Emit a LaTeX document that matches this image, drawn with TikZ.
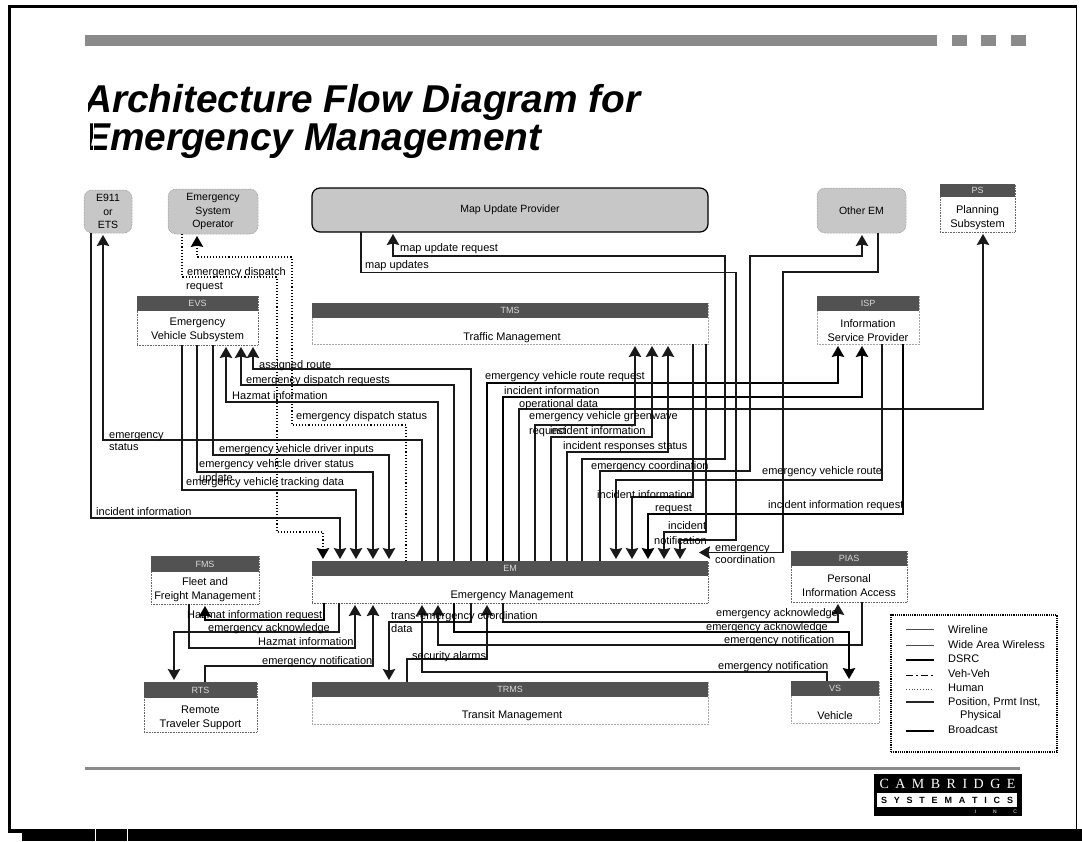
\documentclass[tikz,border=0pt]{standalone}
\usepackage{fontspec}
\setmainfont{Liberation Sans}
\newfontfamily\serifcap{Liberation Serif}
\usetikzlibrary{arrows.meta}
\definecolor{hdrgray}{gray}{0.32}
\definecolor{softgray}{gray}{0.78}
\definecolor{bandgray}{gray}{0.54}
\tikzset{
  bodybox/.style={draw=black!60,densely dotted,line width=0.6pt,inner sep=0,outer sep=0,fill=white},
  faintbox/.style={draw=black!35,densely dotted,line width=0.5pt,inner sep=0,outer sep=0,fill=white},
  headbar/.style={draw=none,fill=hdrgray,inner sep=0,outer sep=0,text=white!85!black,font=\fontsize{9}{10}\selectfont},
  softbox/.style={draw=black!55,densely dotted,line width=0.5pt,fill=softgray,rounded corners=8pt,inner sep=0,outer sep=0,align=center,font=\fontsize{10.5}{13.5}\selectfont},
  mapbox/.style={draw=black,line width=1.2pt,fill=softgray,rounded corners=8pt,inner sep=0,outer sep=0,font=\fontsize{10.5}{13}\selectfont},
  boxtxt/.style={align=center,inner sep=0,font=\fontsize{11}{14}\selectfont},
  lbl/.style={anchor=west,inner sep=0,text height=8pt,text depth=2.5pt,font=\fontsize{11}{13}\selectfont},
  conn/.style={draw=black!90,line width=1.25pt,line join=miter},
  heavy/.style={draw=black,line width=1.6pt,line join=miter},
  human/.style={draw=black,line width=1.1pt,dotted,line join=miter},
  arrowed/.style={-{Stealth[length=11pt,width=12.5pt,inset=1.5pt]},shorten >=2pt}
}
\begin{document}
\begin{tikzpicture}[x=1pt,y=-1pt]
\path[use as bounding box,fill=white] (0,0) rectangle (1082,841);
% page frame
\fill[black] (7.5,5) rectangle (1077,8);
\fill[black] (7.5,5) rectangle (10.5,833);
\fill[black] (7.5,829) rectangle (22,833);
\fill[black] (22,829) rectangle (1082,841);
\fill[black] (1075.8,8) rectangle (1076.8,829);
\fill[white] (95,829) rectangle (96,841);
\fill[white] (127,829) rectangle (128,841);
% top band
\fill[bandgray] (85,34.5) rectangle (937,46);
\fill[bandgray] (952,34.5) rectangle (967,46);
\fill[bandgray] (981,34.5) rectangle (996,46);
\fill[bandgray] (1011,34.5) rectangle (1026,46);
% bottom rule
\fill[bandgray] (85,767) rectangle (1020,770);
% title
\node[anchor=base west,inner sep=0,font=\fontsize{38.8}{38.8}\selectfont\bfseries\itshape] (title1) at (84,112) {Architecture Flow Diagram for};
\node[anchor=base west,inner sep=0,font=\fontsize{38.8}{38.8}\selectfont\bfseries\itshape] (title2) at (84,150) {Emergency Management};
\fill[white] (80,85) rectangle (87.5,116);
\fill[white] (80,122) rectangle (90,154);
\fill[white] (92.5,122) rectangle (93.5,154);

% terminators
\node[softbox,minimum width=48,minimum height=43] (e911) at (108,211.5) {E911\\or\\ETS};
\node[softbox,minimum width=90,minimum height=45] (eso) at (213,211.5) {Emergency\\System\\Operator};
\node[mapbox,minimum width=396,minimum height=44] (map) at (510,210) {Map Update Provider};
\node[softbox,minimum width=89,minimum height=45] (oem) at (861.5,210.5) {Other EM};

% subsystems
\node[bodybox,minimum width=75,minimum height=48] (ps) at (977.5,208) {};
\node[headbar,minimum width=75,minimum height=13] (psh) at (977.5,190.5) {PS};
\node[boxtxt] (pst) at (977.5,217.5) {Planning\\Subsystem};

\node[bodybox,minimum width=121,minimum height=49] (evs) at (197.5,320.5) {};
\node[headbar,minimum width=121,minimum height=15] (evsh) at (197.5,303.5) {EVS};
\node[boxtxt] (evst) at (197.5,330) {Emergency\\Vehicle Subsystem};

\node[faintbox,minimum width=396,minimum height=41] (tms) at (510,323.5) {};
\node[headbar,minimum width=396,minimum height=15] (tmsh) at (510,310.5) {TMS};
\node[boxtxt] (tmst) at (512,338) {Traffic Management};

\node[faintbox,minimum width=102,minimum height=48] (isp) at (868,320) {};
\node[headbar,minimum width=102,minimum height=15] (isph) at (868,303.5) {ISP};
\node[boxtxt] (ispt) at (868,331) {Information\\Service Provider};

\node[bodybox,minimum width=108,minimum height=48] (fms) at (205,580) {};
\node[headbar,minimum width=108,minimum height=16] (fmsh) at (205,564) {FMS};
\node[boxtxt] (fmst) at (205,589.5) {Fleet and\\Freight Management};

\node[bodybox,minimum width=396,minimum height=42] (em) at (510,582) {};
\node[headbar,minimum width=396,minimum height=15] (emh) at (510,568.5) {EM};
\node[boxtxt] (emt) at (512,596) {Emergency Management};

\node[bodybox,minimum width=116,minimum height=51] (pias) at (849,576.5) {};
\node[headbar,minimum width=116,minimum height=15] (piash) at (849,558.5) {PIAS};
\node[boxtxt] (piast) at (849,586) {Personal\\Information Access};

\node[bodybox,minimum width=113,minimum height=50] (rts) at (200.5,707) {};
\node[headbar,minimum width=113,minimum height=16] (rtsh) at (200.5,690) {RTS};
\node[boxtxt] (rtst) at (200.5,717.5) {Remote\\Traveler Support};

\node[faintbox,minimum width=396,minimum height=42] (trms) at (510,703) {};
\node[headbar,minimum width=396,minimum height=15] (trmsh) at (510,689.5) {TRMS};
\node[boxtxt] (trmst) at (512,716) {Transit Management};

\node[faintbox,minimum width=88,minimum height=42] (vs) at (835,702) {};
\node[headbar,minimum width=88,minimum height=15] (vsh) at (835,688.5) {VS};
\node[boxtxt] (vst) at (835,716) {Vehicle};

% --- connectors above EM
\draw[conn,arrowed] (e911.south -| 91,0) -- (91,518) -- (340,518) -- (emh.north -| 340,0);
\draw[conn,arrowed] (emh.north -| 422,0) -- (422,440) -- (103,440) -- (e911.south -| 103,0);
\draw[human,arrowed] (eso.south -| 182,0) -- (182,277) -- (277,277) -- (277,532) -- (323,532) -- (emh.north -| 323,0);
\draw[human,arrowed] (emh.north -| 406,0) -- (406,425) -- (292,425) -- (292,257) -- (197,257) -- (eso.south -| 197,0);
\draw[conn,arrowed] (emh.north -| 471,0) -- (471,369) -- (253,369) -- (evs.south -| 253,0);
\draw[conn,arrowed] (emh.north -| 454,0) -- (454,385) -- (241,385) -- (evs.south -| 241,0);
\draw[conn,arrowed] (emh.north -| 438,0) -- (438,402) -- (226,402) -- (evs.south -| 226,0);
\draw[conn,arrowed] (evs.south -| 213,0) -- (213,455) -- (389,455) -- (emh.north -| 389,0);
\draw[conn,arrowed] (evs.south -| 197,0) -- (197,472) -- (373,472) -- (emh.north -| 373,0);
\draw[conn,arrowed] (evs.south -| 182,0) -- (182,490) -- (356,490) -- (emh.north -| 356,0);
\draw[heavy,arrowed] (emh.north -| 487,0) -- (487,383) -- (838,383) -- (isp.south -| 838,0);
\draw[heavy,arrowed] (emh.north -| 503,0) -- (503,397) -- (862,397) -- (isp.south -| 862,0);
\draw[conn,arrowed] (emh.north -| 519,0) -- (519,409) -- (983,409) -- (ps.south -| 983,0);
\draw[conn,arrowed] (emh.north -| 535,0) -- (535,425) -- (635,425) -- (tms.south -| 635,0);
\draw[conn,arrowed] (emh.north -| 551,0) -- (551,437) -- (652,437) -- (tms.south -| 652,0);
\draw[conn,arrowed] (emh.north -| 567,0) -- (567,452) -- (668,452) -- (tms.south -| 668,0);
\draw[conn,arrowed] (emh.north -| 582,0) -- (582,459) -- (725,459) -- (725,256) -- (393,256) -- (map.south -| 393,0);
\draw[conn,arrowed] (map.south -| 361,0) -- (361,272.5) -- (736,272.5) -- (736,540) -- (680,540) -- (emh.north -| 680,0);
\draw[conn,arrowed] (emh.north -| 600,0) -- (600,471) -- (750,471) -- (750,256) -- (862,256) -- (oem.south -| 862,0);
\draw[conn,arrowed] (oem.south -| 878,0) -- (878,272) -- (783,272) -- (783,552.5) -- (697,552.5);
\draw[conn,arrowed] (isp.south -| 882,0) -- (882,480) -- (616,480) -- (emh.north -| 616,0);
\draw[conn,arrowed] (tms.south -| 693,0) -- (693,497) -- (632,497) -- (emh.north -| 632,0);
\draw[heavy,arrowed] (isp.south -| 903,0) -- (903,514) -- (648,514) -- (emh.north -| 648,0);
\draw[conn,arrowed] (tms.south -| 706,0) -- (706,532) -- (664,532) -- (emh.north -| 664,0);

% --- connectors below EM
\draw[heavy,arrowed] (em.south -| 324,0) -- (324,620) -- (205,620) -- (fms.south -| 205,0);
\draw[conn,arrowed] (em.south -| 339,0) -- (339,632) -- (174,632) -- (rtsh.north -| 174,0);
\draw[conn,arrowed] (fms.south -| 189,0) -- (189,648) -- (355,648) -- (em.south -| 355,0);
\draw[conn,arrowed] (rtsh.north -| 205,0) -- (205,666) -- (373,666) -- (em.south -| 373,0);
\draw[conn,arrowed] (em.south -| 471,0) -- (471,622) -- (389,622) -- (trmsh.north -| 389,0);
\draw[conn,arrowed] (trmsh.north -| 407,0) -- (407,659) -- (487,659) -- (em.south -| 487,0);
\draw[conn,arrowed] (vsh.north -| 827,0) -- (827,672) -- (422,672) -- (em.south -| 422,0);
\draw[conn,arrowed] (pias.south -| 862,0) -- (862,645) -- (438,645) -- (em.south -| 438,0);
\draw[heavy,arrowed] (em.south -| 454,0) -- (454,632) -- (849,632) -- (vsh.north -| 849,0);
\draw[conn,arrowed] (em.south -| 503,0) -- (503,622) -- (838,622) -- (pias.south -| 838,0);

% --- labels
\node[lbl] (l01) at (187,273) {emergency dispatch};
\node[lbl] (l02) at (186,287) {request};
\node[lbl] (l03) at (400,249) {map update request};
\node[lbl] (l04) at (365,266) {map updates};
\node[lbl] (l05) at (259,366) {assigned route};
\node[lbl] (l06) at (246,381) {emergency dispatch requests};
\node[lbl] (l07) at (232,397) {Hazmat information};
\node[lbl] (l08) at (296,417) {emergency dispatch status};
\node[lbl] (l09) at (485,377) {emergency vehicle route request};
\node[lbl] (l10) at (504,392) {incident information};
\node[lbl] (l11) at (519,405) {operational data};
\node[lbl] (l12) at (529,417) {emergency vehicle greenwave};
\node[lbl] (l13) at (529,432) {request};
\node[lbl] (l14) at (550,432) {incident information};
\node[lbl] (l15) at (563,447) {incident responses status};
\node[lbl] (l16) at (591,467) {emergency coordination};
\node[lbl] (l17) at (597,496) {incident information};
\node[lbl] (l18) at (655,509) {request};
\node[lbl] (l19) at (668,527) {incident};
\node[lbl] (l20) at (654,542) {notification};
\node[lbl] (l21) at (715,549) {emergency};
\node[lbl] (l22) at (715,561) {coordination};
\node[lbl] (l23) at (762,472) {emergency vehicle route};
\node[lbl] (l24) at (768,506) {incident information request};
\node[lbl] (l25) at (109,436) {emergency};
\node[lbl] (l26) at (109,448) {status};
\node[lbl] (l27) at (219,450) {emergency vehicle driver inputs};
\node[lbl] (l28) at (199,465) {emergency vehicle driver status};
\node[lbl] (l29) at (199,479) {update};
\node[lbl] (l30) at (186,483) {emergency vehicle tracking data};
\node[lbl] (l31) at (96,513) {incident information};
\node[lbl] (l32) at (187,616) {Hazmat information request};
\node[lbl] (l33) at (208,629) {emergency acknowledge};
\node[lbl] (l34) at (258,643) {Hazmat information};
\node[lbl] (l35) at (262,662) {emergency notification};
\node[lbl] (l36) at (412,657) {security alarms};
\node[lbl] (l37) at (391,617) {trans-};
\node[lbl] (l38) at (391,630) {data};
\node[lbl] (l39) at (420,617) {emergency coordination};
\node[lbl] (l40) at (716,614) {emergency acknowledge};
\node[lbl] (l41) at (706,628) {emergency acknowledge};
\node[lbl] (l42) at (724,641) {emergency notification};
\node[lbl] (l43) at (718,667) {emergency notification};

% legend
\node[draw=black,densely dotted,line width=1.2pt,fill=white,minimum width=166,minimum height=137,inner sep=0] (legend) at (974,683.5) {};
\draw[draw=black!70,line width=0.7pt] (906,629) -- (934,629);
\draw[draw=black!70,line width=1pt] (906,645) -- (934,645);
\draw[draw=black,line width=1.5pt] (906,660) -- (934,660);
\draw[draw=black,line width=1pt,dash pattern=on 7pt off 3pt on 2pt off 3pt] (906,675) -- (934,675);
\draw[draw=black!70,line width=0.8pt,dotted] (906,689) -- (934,689);
\draw[draw=black!85,line width=1.2pt] (906,702) -- (934,702);
\draw[draw=black,line width=1.6pt] (906,731) -- (934,731);
\node[lbl] (k1) at (948,631) {Wireline};
\node[lbl] (k2) at (948,646) {Wide Area Wireless};
\node[lbl] (k3) at (948,660) {DSRC};
\node[lbl] (k4) at (948,675) {Veh-Veh};
\node[lbl] (k5) at (948,689) {Human};
\node[lbl] (k6) at (948,703) {Position, Prmt Inst,};
\node[lbl] (k7) at (960,716) {Physical};
\node[lbl] (k8) at (948,731) {Broadcast};

% logo
\fill[black] (874,774) rectangle (1022,816);
\fill[white] (877,793) rectangle (1017,807);
\node[anchor=center,inner sep=0,text=white,font=\serifcap\fontsize{14}{14}\selectfont] (logo1) at (947.5,784) {\makebox[136pt][s]{C\hfil A\hfil M\hfil B\hfil R\hfil I\hfil D\hfil G\hfil E}};
\node[anchor=center,inner sep=0,font=\bfseries\fontsize{9}{9}\selectfont] (logo2) at (947,800) {\makebox[132pt][s]{S\hfil Y\hfil S\hfil T\hfil E\hfil M\hfil A\hfil T\hfil I\hfil C\hfil S}};
\node[anchor=center,inner sep=0,text=white,font=\fontsize{5}{5}\selectfont] (logo3) at (996,811.5) {\makebox[42pt][s]{I\hfil N\hfil C}};
\end{tikzpicture}
\end{document}
